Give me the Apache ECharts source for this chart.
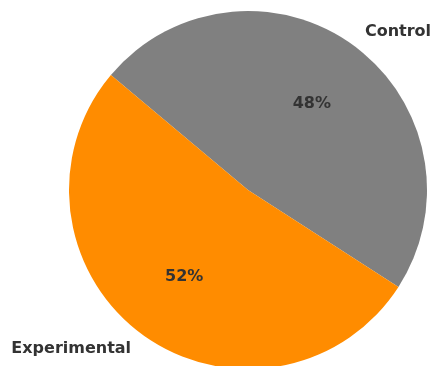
<!DOCTYPE html>
<html>
<head>
<meta charset="utf-8">
<script src="https://cdn.jsdelivr.net/npm/echarts@6/dist/echarts.min.js"></script>
<style>
html,body{margin:0;padding:0;background:#fff;}
#c{width:434px;height:366px;}
</style>
</head>
<body>
<div id="c"></div>
<script>
const categories = ['Control', 'Experimental'];
const values = [48, 52];
const colors = ['#808080', '#FF8C00'];

const R = 179;
const center = [248, 190];
const startAngle = 140;
const font = {fontFamily: 'DejaVu Sans', fontWeight: 'bold', fontSize: 16, color: '#333333'};

const data = categories.map((c, i) => ({name: c, value: values[i], itemStyle: {color: colors[i]}}));
const total = values.reduce((a, b) => a + b, 0);

const chart = echarts.init(document.getElementById('c'), null, {renderer: 'canvas'});
chart.setOption({
  animation: false,
  backgroundColor: '#ffffff',
  series: [
    {
      type: 'pie',
      center: center,
      radius: [0, R],
      startAngle: startAngle,
      clockwise: true,
      avoidLabelOverlap: false,
      silent: true,
      data: data,
      itemStyle: {borderWidth: 0},
      label: Object.assign({
        show: true,
        position: 'outside',
        formatter: '{b}',
        distanceToLabelLine: 0,
        alignTo: 'none'
      }, font),
      labelLine: {show: false, length: 18, length2: 0}
    },
    {
      type: 'pie',
      center: center,
      radius: [30, R],
      startAngle: startAngle,
      clockwise: true,
      avoidLabelOverlap: false,
      silent: true,
      data: data.map(d => ({name: d.name, value: d.value, itemStyle: {color: 'rgba(0,0,0,0)'}})),
      label: Object.assign({
        show: true,
        position: 'inside',
        formatter: p => Math.round(p.value / total * 100) + '%'
      }, font),
      labelLine: {show: false}
    }
  ]
});
</script>
</body>
</html>
